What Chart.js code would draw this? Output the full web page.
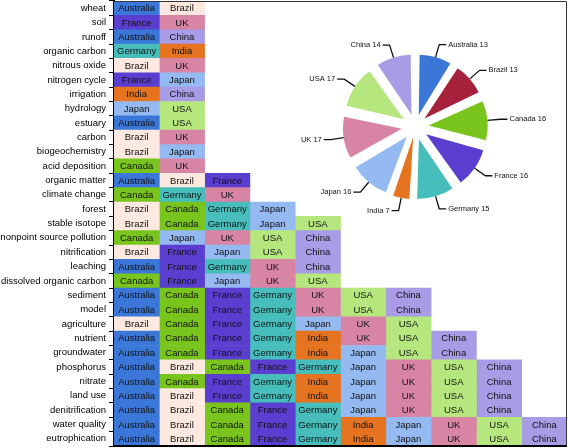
<!DOCTYPE html>
<html>
<head>
<meta charset="utf-8">
<script src="https://cdn.jsdelivr.net/npm/chart.js@4.4.1/dist/chart.umd.min.js"></script>
<style>
  body { margin: 0; background: #fff; }
  #wrap { position: relative; width: 568px; height: 448px; }
  #grid { position: absolute; left: 0; top: 0; }
  #pie { position: absolute; left: 300px; top: 0; }
</style>
</head>
<body>
<div id="wrap">
  <canvas id="grid" width="568" height="448"></canvas>
  <canvas id="pie" width="268" height="240"></canvas>
</div>
<script>
// categorias (filas) y paises que aparecen en cada una
const topics = [
  'wheat', 'soil', 'runoff', 'organic carbon', 'nitrous oxide', 'nitrogen cycle',
  'irrigation', 'hydrology', 'estuary', 'carbon', 'biogeochemistry', 'acid deposition',
  'organic matter', 'climate change', 'forest', 'stable isotope', 'nonpoint source pollution',
  'nitrification', 'leaching', 'dissolved organic carbon', 'sediment', 'model', 'agriculture',
  'nutrient', 'groundwater', 'phosphorus', 'nitrate', 'land use', 'denitrification',
  'water quality', 'eutrophication'
];

const topicCountries = [
  ['Australia', 'Brazil'],
  ['France', 'UK'],
  ['Australia', 'China'],
  ['Germany', 'India'],
  ['Brazil', 'UK'],
  ['France', 'Japan'],
  ['India', 'China'],
  ['Japan', 'USA'],
  ['Australia', 'USA'],
  ['Brazil', 'UK'],
  ['Brazil', 'Japan'],
  ['Canada', 'UK'],
  ['Australia', 'Brazil', 'France'],
  ['Canada', 'Germany', 'UK'],
  ['Brazil', 'Canada', 'Germany', 'Japan'],
  ['Brazil', 'Canada', 'Germany', 'Japan', 'USA'],
  ['Canada', 'Japan', 'UK', 'USA', 'China'],
  ['Brazil', 'France', 'Japan', 'USA', 'China'],
  ['Australia', 'France', 'Germany', 'UK', 'China'],
  ['Canada', 'France', 'Japan', 'UK', 'USA'],
  ['Australia', 'Canada', 'France', 'Germany', 'UK', 'USA', 'China'],
  ['Australia', 'Canada', 'France', 'Germany', 'UK', 'USA', 'China'],
  ['Brazil', 'Canada', 'France', 'Germany', 'Japan', 'UK', 'USA'],
  ['Australia', 'Canada', 'France', 'Germany', 'India', 'UK', 'USA', 'China'],
  ['Australia', 'Canada', 'France', 'Germany', 'India', 'Japan', 'USA', 'China'],
  ['Australia', 'Brazil', 'Canada', 'France', 'Germany', 'Japan', 'UK', 'USA', 'China'],
  ['Australia', 'Canada', 'France', 'Germany', 'India', 'Japan', 'UK', 'USA', 'China'],
  ['Australia', 'Brazil', 'France', 'Germany', 'India', 'Japan', 'UK', 'USA', 'China'],
  ['Australia', 'Brazil', 'Canada', 'France', 'Germany', 'Japan', 'UK', 'USA', 'China'],
  ['Australia', 'Brazil', 'Canada', 'France', 'Germany', 'India', 'Japan', 'UK', 'USA', 'China'],
  ['Australia', 'Brazil', 'Canada', 'France', 'Germany', 'India', 'Japan', 'UK', 'USA', 'China']
];

// datos del grafico de torta
const countries = ['Australia', 'Brazil', 'Canada', 'France', 'Germany', 'India', 'Japan', 'UK', 'USA', 'China'];
const pieCounts = [13, 13, 16, 16, 15, 7, 16, 17, 17, 14];

// colores
const cellColors = ['#3a77d8', '#fde9e0', '#79c41d', '#5a3ecf', '#47bebc', '#e5731f', '#94baf1', '#d884a4', '#b6e77e', '#a99ce6'];
const pieColors  = ['#3a77d8', '#a6213b', '#79c41d', '#5a3ecf', '#47bebc', '#e5731f', '#94baf1', '#d884a4', '#b6e77e', '#a99ce6'];

const FONT = '"Liberation Sans", Arial, sans-serif';

// una serie por columna de la grilla
const maxCols = Math.max(...topicCountries.map(r => r.length));
const gridDatasets = [];
for (let k = 0; k < maxCols; k++) {
  gridDatasets.push({
    data: topicCountries.map(r => r.length > k ? 1 : null),
    names: topicCountries.map(r => r[k] || ''),
    backgroundColor: topicCountries.map(r => r.length > k ? cellColors[countries.indexOf(r[k])] : 'rgba(0,0,0,0)'),
    borderWidth: 0,
    barPercentage: 1,
    categoryPercentage: 1
  });
}

// texto dentro de cada celda + marco del area
const cellLabels = {
  id: 'cellLabels',
  afterDatasetsDraw(chart) {
    const ctx = chart.ctx;
    ctx.save();
    ctx.font = '9.5px ' + FONT;
    ctx.fillStyle = '#111';
    ctx.textAlign = 'center';
    ctx.textBaseline = 'middle';
    chart.data.datasets.forEach((ds, k) => {
      chart.getDatasetMeta(k).data.forEach((bar, i) => {
        if (!ds.names[i]) return;
        const c = bar.getCenterPoint();
        ctx.fillText(ds.names[i], c.x, c.y + 0.5);
      });
    });
    const a = chart.chartArea;
    ctx.strokeStyle = '#333';
    ctx.lineWidth = 1;
    ctx.beginPath();
    ctx.moveTo(a.left, a.top + 0.5);
    ctx.lineTo(a.right - 0.5, a.top + 0.5);
    ctx.lineTo(a.right - 0.5, a.bottom);
    ctx.stroke();
    ctx.strokeStyle = '#000';
    ctx.lineWidth = 2;
    ctx.beginPath();
    ctx.moveTo(a.left, a.bottom);
    ctx.lineTo(a.right, a.bottom);
    ctx.stroke();
    ctx.restore();
  }
};

new Chart(document.getElementById('grid'), {
  type: 'bar',
  data: { labels: topics, datasets: gridDatasets },
  options: {
    indexAxis: 'y',
    responsive: false,
    animation: false,
    layout: { padding: { top: 1, right: 1, bottom: 2, left: 0 } },
    scales: {
      x: { display: false, stacked: true, min: 0, max: maxCols },
      y: {
        stacked: true,
        afterFit: (scale) => {
          scale.width = 114;
          scale.paddingTop = 0;
          scale.paddingBottom = 0;
        },
        ticks: { autoSkip: false, color: '#000', padding: 3, font: { size: 9.5, family: FONT } },
        grid: { display: true, drawOnChartArea: false, drawTicks: true, tickLength: 5, color: '#000' },
        border: { display: true, color: '#000', width: 2 }
      }
    },
    plugins: { legend: { display: false }, tooltip: { enabled: false } }
  },
  plugins: [cellLabels]
});

// torta "explotada": cada porcion sale hacia afuera la misma distancia
const pieReach = 18;
function explode(c) {
  if (c.type !== 'data') return 0;
  const vals = c.dataset.data;
  const total = vals.reduce((a, b) => a + b, 0);
  const circ = 2 * Math.PI * vals[c.dataIndex] / total;
  const fix = 1 - Math.sin(Math.min(Math.PI, circ));
  return 4 * pieReach / (1 + fix);
}

// etiquetas con linea guia
const pieCallouts = {
  id: 'pieCallouts',
  afterDatasetsDraw(chart) {
    const ctx = chart.ctx;
    const meta = chart.getDatasetMeta(0);
    const ds = chart.data.datasets[0];
    ctx.save();
    ctx.font = '7.5px ' + FONT;
    ctx.fillStyle = '#111';
    ctx.strokeStyle = '#111';
    ctx.lineWidth = 1.3;
    ctx.textBaseline = 'middle';
    meta.data.forEach((arc, i) => {
      const mid = (arc.startAngle + arc.endAngle) / 2;
      const t = (arc.options.offset || 0) / 4;
      const fix = 1 - Math.sin(Math.min(Math.PI, arc.circumference));
      const reach = arc.outerRadius + t * (1 + fix);
      const dx = Math.cos(mid), dy = Math.sin(mid);
      const x0 = arc.x + dx * reach, y0 = arc.y + dy * reach;
      const x1 = arc.x + dx * (reach + 13), y1 = arc.y + dy * (reach + 13);
      const side = dx >= 0 ? 1 : -1;
      const x2 = x1 + side * 7;
      ctx.beginPath();
      ctx.moveTo(x0, y0);
      ctx.lineTo(x1, y1);
      ctx.lineTo(x2, y1);
      ctx.stroke();
      ctx.textAlign = side > 0 ? 'left' : 'right';
      ctx.fillText(chart.data.labels[i] + ' ' + ds.data[i], x2 + side * 2, y1);
    });
    ctx.restore();
  }
};

new Chart(document.getElementById('pie'), {
  type: 'pie',
  data: {
    labels: countries,
    datasets: [{ data: pieCounts, backgroundColor: pieColors, borderWidth: 0, offset: explode, hoverOffset: 0 }]
  },
  options: {
    responsive: false,
    animation: false,
    layout: { padding: { left: 33.6, right: 71, top: 45, bottom: 31.6 } },
    plugins: { legend: { display: false }, tooltip: { enabled: false } }
  },
  plugins: [pieCallouts]
});
</script>
</body>
</html>
